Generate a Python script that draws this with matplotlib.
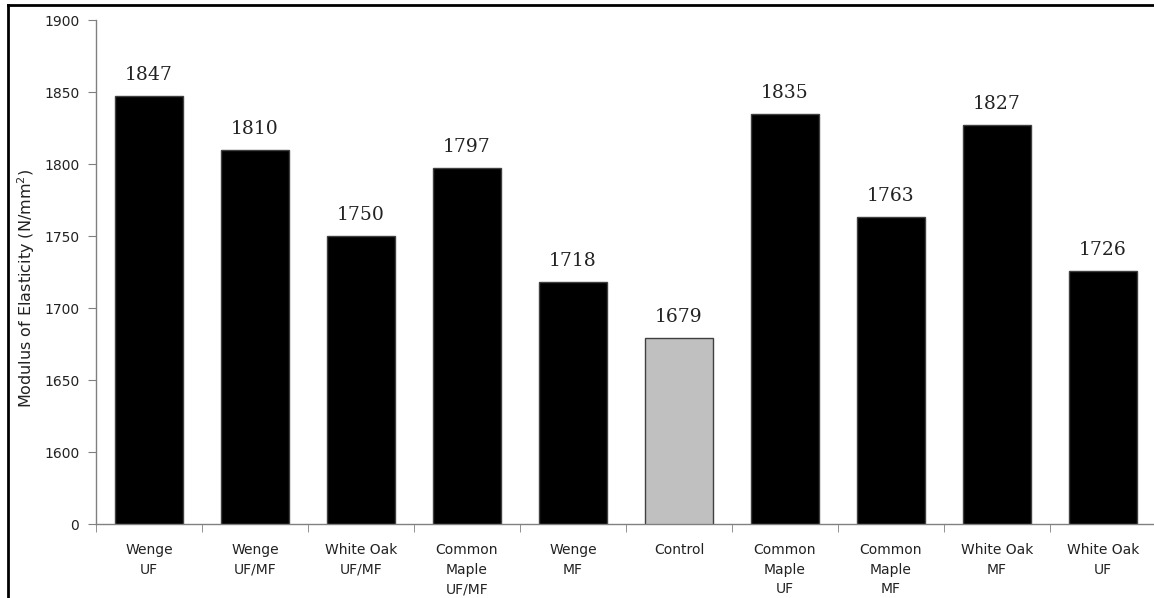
import numpy as np
import matplotlib
matplotlib.use('Agg')
import matplotlib.pyplot as plt
from matplotlib.lines import Line2D

CATEGORIES = ['Wenge\nUF', 'Wenge\nUF/MF', 'White Oak\nUF/MF', 'Common\nMaple\nUF/MF',
              'Wenge\nMF', 'Control', 'Common\nMaple\nUF', 'Common\nMaple\nMF',
              'White Oak\nMF', 'White Oak\nUF']
MOE = np.asarray([1847, 1810, 1750, 1797, 1718, 1679, 1835, 1763, 1827, 1726])
BAR_COLORS = ['black'] * 5 + ['#c0c0c0'] + ['black'] * 4
Y_TICKS = [1550, 1600, 1650, 1700, 1750, 1800, 1850, 1900]
Y_TICK_LABELS = ['0', '1600', '1650', '1700', '1750', '1800', '1850', '1900']

W, H = 1154, 598
fig = plt.figure(figsize=(W / 100, H / 100), dpi=100)
ax = fig.add_axes([96 / W, 74 / H, 1060 / W, 504 / H])

pos = np.arange(len(MOE))
ax.bar(pos, MOE, width=0.64, color=BAR_COLORS, edgecolor='#404040', linewidth=1)

for p, v in zip(pos, MOE):
    ax.annotate(str(v), (p, v), xytext=(0, 11.5), textcoords='offset points',
                ha='center', va='baseline', family='DejaVu Serif',
                fontsize=13.5, color='#222222')

# broken axis: bottom of the axis stands for 0
ax.set_ylim(1550, 1900)
ax.set_yticks(Y_TICKS)
ax.set_yticklabels(Y_TICK_LABELS)
ax.set_xlim(-0.5, len(MOE) - 0.5)
ax.set_xticks(pos)
ax.set_xticklabels(CATEGORIES, fontsize=10, color='#222222', linespacing=1.5)
ax.set_xticks(np.arange(len(MOE) + 1) - 0.5, minor=True)
ax.tick_params(axis='x', which='major', length=0, pad=14)
ax.tick_params(axis='x', which='minor', length=6, color='#808080', direction='out')
ax.tick_params(axis='y', length=6, color='#808080', direction='out',
               labelsize=10, labelcolor='#222222', pad=6)

for s in ['top', 'right']:
    ax.spines[s].set_visible(False)
for s in ['left', 'bottom']:
    ax.spines[s].set_color('#808080')
    ax.spines[s].set_linewidth(1)

fig.text(26 / W, 1 - 288 / H, 'Modulus of Elasticity (N/mm$^2$)', rotation=90,
         ha='center', va='center', fontsize=11.5, color='#222222')

# outer frame (top and left only, rest is cropped)
fig.add_artist(Line2D([7.5 / W, 7.5 / W], [0, 1 - 5 / H], transform=fig.transFigure,
                      color='black', linewidth=2))
fig.add_artist(Line2D([7.5 / W, 1], [1 - 5 / H, 1 - 5 / H], transform=fig.transFigure,
                      color='black', linewidth=2))

fig.savefig('out.png', dpi=100)
